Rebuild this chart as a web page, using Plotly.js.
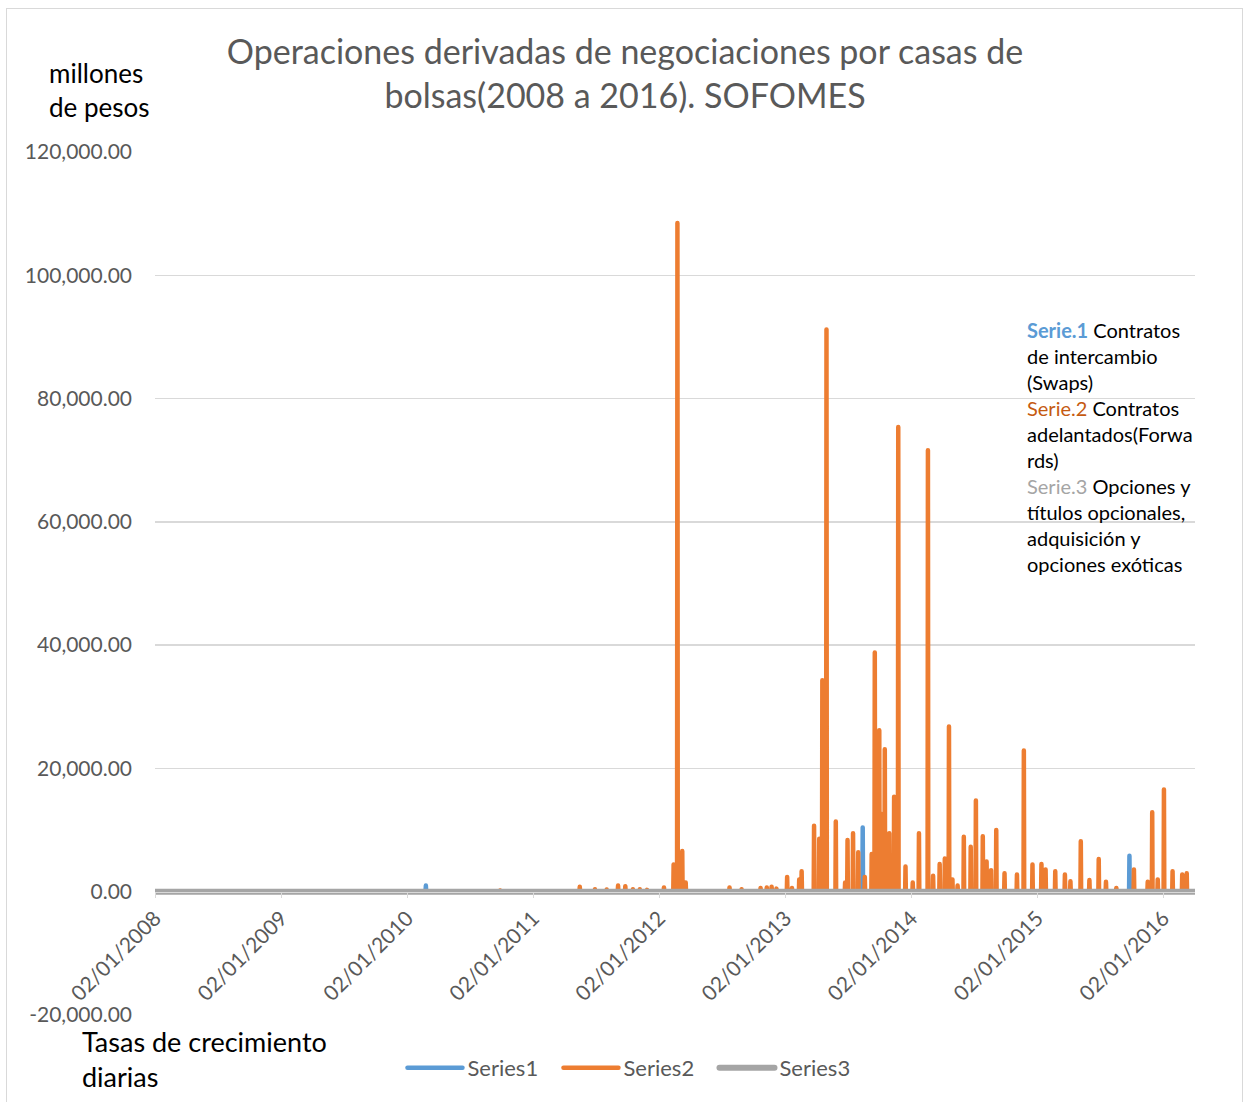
<!DOCTYPE html>
<html>
<head>
<meta charset="utf-8">
<script src="https://cdn.plot.ly/plotly-3.0.1.min.js"></script>
<style>
  html, body { margin: 0; padding: 0; background: #ffffff; }
  #wrap { position: relative; width: 1246px; height: 1102px; }
  #chart { position: absolute; left: 0; top: 0; width: 1246px; height: 1102px; }
  #frame { position: absolute; left: 6px; top: 8px; width: 1237px; height: 1100px;
           border: 1px solid #d9d9d9; pointer-events: none; box-sizing: border-box; }
  #chart .scatterlayer path.js-line { stroke-linejoin: round !important; stroke-linecap: round !important; }
  #chart .legend path.js-line { stroke-linecap: round !important; }
</style>
</head>
<body>
<div id="wrap">
  <div id="chart"></div>
  <div id="frame"></div>
</div>
<script>
// ---------------- DATA ----------------
const seriesNames = ['Series1', 'Series2', 'Series3'];

const xTickVals = ['2008-01-02','2009-01-02','2010-01-02','2011-01-02','2012-01-02',
                   '2013-01-02','2014-01-02','2015-01-02','2016-01-02'];
const xTickText = ['02/01/2008','02/01/2009','02/01/2010','02/01/2011','02/01/2012',
                   '02/01/2013','02/01/2014','02/01/2015','02/01/2016'];

const yTickVals = [-20000, 0, 20000, 40000, 60000, 80000, 100000, 120000];
const yTickText = ['-20,000.00','0.00','20,000.00','40,000.00','60,000.00',
                   '80,000.00','100,000.00','120,000.00'];

// Serie.1 Contratos de intercambio (Swaps)
const s1Dates = ['2008-01-02',
  '2010-02-24','2010-02-25','2010-02-26',
  '2013-08-13','2013-08-14','2013-08-15',
  '2015-09-25','2015-09-26','2015-09-27',
  '2016-03-31'];
const s1Values = [0,
  0, 1000, 0,
  0, 10400, 0,
  0, 5850, 0,
  0];

// Serie.2 Contratos adelantados (Forwards)
const s2Dates = ['2008-01-02',
  '2010-09-27','2010-09-28','2010-09-29',
  '2011-05-16','2011-05-17','2011-05-18',
  '2011-06-29','2011-06-30','2011-07-01',
  '2011-08-02','2011-08-03','2011-08-04',
  '2011-09-04','2011-09-05','2011-09-06',
  '2011-09-25','2011-09-26','2011-09-27',
  '2011-10-17','2011-10-18','2011-10-19',
  '2011-11-06','2011-11-07','2011-11-08',
  '2011-11-27','2011-11-28','2011-11-29',
  '2012-01-15','2012-01-16','2012-01-17',
  '2012-02-12','2012-02-13','2012-02-14',
  '2012-02-23','2012-02-24','2012-02-25',
  '2012-03-08','2012-03-09','2012-03-10',
  '2012-03-18','2012-03-19','2012-03-20',
  '2012-07-23','2012-07-24','2012-07-25',
  '2012-08-27','2012-08-28','2012-08-29',
  '2012-10-21','2012-10-22','2012-10-23',
  '2012-11-08','2012-11-09','2012-11-10',
  '2012-11-22','2012-11-23','2012-11-24',
  '2012-12-06','2012-12-07','2012-12-08',
  '2013-01-06','2013-01-07','2013-01-08',
  '2013-01-20','2013-01-21','2013-01-22',
  '2013-02-10','2013-02-11','2013-02-12',
  '2013-02-17','2013-02-18','2013-02-19',
  '2013-03-25','2013-03-26','2013-03-27',
  '2013-04-09','2013-04-10','2013-04-11',
  '2013-04-18','2013-04-19','2013-04-20',
  '2013-04-30','2013-05-01','2013-05-02',
  '2013-05-27','2013-05-28','2013-05-29',
  '2013-06-23','2013-06-24','2013-06-25',
  '2013-06-30','2013-07-01','2013-07-02',
  '2013-07-16','2013-07-17','2013-07-18',
  '2013-07-31','2013-08-01','2013-08-02',
  '2013-08-19','2013-08-20','2013-08-21',
  '2013-09-08','2013-09-09','2013-09-10',
  '2013-09-17','2013-09-18','2013-09-19',
  '2013-09-30','2013-10-01','2013-10-02',
  '2013-10-07','2013-10-08','2013-10-09',
  '2013-10-16','2013-10-17','2013-10-18',
  '2013-10-29','2013-10-30','2013-10-31',
  '2013-11-12','2013-11-13','2013-11-14',
  '2013-11-24','2013-11-25','2013-11-26',
  '2013-12-15','2013-12-16','2013-12-17',
  '2014-01-05','2014-01-06','2014-01-07',
  '2014-01-23','2014-01-24','2014-01-25',
  '2014-02-18','2014-02-19','2014-02-20',
  '2014-03-05','2014-03-06','2014-03-07',
  '2014-03-24','2014-03-25','2014-03-26',
  '2014-04-08','2014-04-09','2014-04-10',
  '2014-04-20','2014-04-21','2014-04-22',
  '2014-04-30','2014-05-01','2014-05-02',
  '2014-05-15','2014-05-16','2014-05-17',
  '2014-06-02','2014-06-03','2014-06-04',
  '2014-06-22','2014-06-23','2014-06-24',
  '2014-07-07','2014-07-08','2014-07-09',
  '2014-07-27','2014-07-28','2014-07-29',
  '2014-08-07','2014-08-08','2014-08-09',
  '2014-08-20','2014-08-21','2014-08-22',
  '2014-09-04','2014-09-05','2014-09-06',
  '2014-09-28','2014-09-29','2014-09-30',
  '2014-11-03','2014-11-04','2014-11-05',
  '2014-11-23','2014-11-24','2014-11-25',
  '2014-12-18','2014-12-19','2014-12-20',
  '2015-01-13','2015-01-14','2015-01-15',
  '2015-01-25','2015-01-26','2015-01-27',
  '2015-02-22','2015-02-23','2015-02-24',
  '2015-03-22','2015-03-23','2015-03-24',
  '2015-04-07','2015-04-08','2015-04-09',
  '2015-05-07','2015-05-08','2015-05-09',
  '2015-06-01','2015-06-02','2015-06-03',
  '2015-06-28','2015-06-29','2015-06-30',
  '2015-07-19','2015-07-20','2015-07-21',
  '2015-08-18','2015-08-19','2015-08-20',
  '2015-10-08','2015-10-09','2015-10-10',
  '2015-11-17','2015-11-18','2015-11-19',
  '2015-11-30','2015-12-01','2015-12-02',
  '2015-12-16','2015-12-17','2015-12-18',
  '2016-01-03','2016-01-04','2016-01-05',
  '2016-01-28','2016-01-29','2016-01-30',
  '2016-02-25','2016-02-26','2016-02-27',
  '2016-03-09','2016-03-10','2016-03-11',
  '2016-03-31'];
const s2Values = [0,
  0, 200, 0,
  0, 800, 0,
  0, 400, 0,
  0, 350, 0,
  0, 1000, 0,
  0, 900, 0,
  0, 400, 0,
  0, 400, 0,
  0, 300, 0,
  0, 700, 0,
  0, 4400, 0,
  0, 108500, 0,
  0, 6600, 0,
  0, 1500, 0,
  0, 700, 0,
  0, 400, 0,
  0, 600, 0,
  0, 700, 0,
  0, 800, 0,
  0, 500, 0,
  0, 2400, 0,
  0, 600, 0,
  0, 2000, 0,
  0, 3300, 0,
  0, 10700, 0,
  0, 8600, 0,
  0, 34300, 0,
  0, 91200, 0,
  0, 11400, 0,
  0, 1500, 0,
  0, 8400, 0,
  0, 9500, 0,
  0, 6400, 0,
  0, 2400, 0,
  0, 6100, 0,
  0, 38800, 0,
  0, 26200, 0,
  0, 12600, 0,
  0, 23100, 0,
  0, 9500, 0,
  0, 15400, 0,
  0, 75400, 0,
  0, 4100, 0,
  0, 1500, 0,
  0, 9500, 0,
  0, 71600, 0,
  0, 2600, 0,
  0, 4500, 0,
  0, 5400, 0,
  0, 26800, 0,
  0, 2000, 0,
  0, 1000, 0,
  0, 8900, 0,
  0, 7300, 0,
  0, 14800, 0,
  0, 9000, 0,
  0, 4900, 0,
  0, 3500, 0,
  0, 10000, 0,
  0, 3000, 0,
  0, 2800, 0,
  0, 22900, 0,
  0, 4400, 0,
  0, 4500, 0,
  0, 3600, 0,
  0, 3300, 0,
  0, 2800, 0,
  0, 1700, 0,
  0, 8200, 0,
  0, 1900, 0,
  0, 5300, 0,
  0, 1600, 0,
  0, 600, 0,
  0, 3600, 0,
  0, 1600, 0,
  0, 12900, 0,
  0, 2000, 0,
  0, 16600, 0,
  0, 3300, 0,
  0, 2800, 0,
  0, 3000, 0,
  0];

// Serie.3 Opciones y títulos opcionales, adquisición y opciones exóticas
const s3Dates = ['2008-01-02', '2016-04-03'];
const s3Values = [0, 0];

// ---------------- CHART ----------------
const FONT = 'Lato, Carlito, Calibri, "Open Sans", sans-serif';
const colors = ['#5b9bd5', '#ed7d31', '#a5a5a5'];

const traces = [
  { type: 'scatter', mode: 'lines', name: seriesNames[0], x: s1Dates, y: s1Values,
    line: { color: colors[0], width: 4.5 } },
  { type: 'scatter', mode: 'lines', name: seriesNames[1], x: s2Dates, y: s2Values,
    line: { color: colors[1], width: 4.5 } },
  { type: 'scatter', mode: 'lines', name: seriesNames[2], x: s3Dates, y: s3Values,
    line: { color: colors[2], width: 6 } }
];

const legendText =
  '<b><span style="color:#5b9bd5">Serie.1</span></b> Contratos<br>' +
  'de intercambio<br>(Swaps)<br>' +
  '<span style="color:#c55a11">Serie.2</span> Contratos<br>' +
  'adelantados(Forwa<br>rds)<br>' +
  '<span style="color:#a5a5a5">Serie.3</span> Opciones y<br>' +
  'títulos opcionales,<br>adquisición y<br>opciones exóticas';

const layout = {
  width: 1246, height: 1102,
  margin: { l: 155, r: 51, t: 152, b: 87 },
  paper_bgcolor: '#ffffff', plot_bgcolor: '#ffffff',
  font: { family: FONT, color: '#595959' },
  title: {
    text: 'Operaciones derivadas de negociaciones por casas de<br>bolsas(2008 a 2016). SOFOMES',
    font: { family: FONT, size: 34, color: '#595959' },
    x: 625 / 1246, xref: 'container', xanchor: 'center',
    y: 1 - 64 / 1102, yref: 'container', yanchor: 'middle',
    automargin: false
  },
  showlegend: true,
  legend: {
    orientation: 'h', x: 0.487, xanchor: 'center', y: -0.0614, yanchor: 'middle',
    font: { family: FONT, size: 22, color: '#595959' },
    bgcolor: 'rgba(0,0,0,0)', entrywidth: 111, entrywidthmode: 'pixels'
  },
  xaxis: {
    type: 'date',
    range: ['2008-01-02', '2016-04-03'],
    tickmode: 'array', tickvals: xTickVals, ticktext: xTickText,
    tickangle: -45,
    tickfont: { family: FONT, size: 21, color: '#595959' },
    ticks: 'outside', ticklen: 5, tickcolor: '#d9d9d9', tickwidth: 1,
    showgrid: false, zeroline: false,
    showline: true, linecolor: '#d9d9d9', linewidth: 1,
    anchor: 'free', position: 20000 / 140000,
    fixedrange: true
  },
  yaxis: {
    range: [-20000, 120000],
    tickmode: 'array', tickvals: yTickVals, ticktext: yTickText,
    tickfont: { family: FONT, size: 21, color: '#595959' },
    showgrid: true, gridcolor: '#d9d9d9', gridwidth: 1.5,
    zeroline: false, showline: false, ticks: '',
    ticklabelstandoff: 22,
    fixedrange: true
  },
  annotations: [
    { text: 'millones<br>de pesos', xref: 'paper', yref: 'paper',
      x: (47 - 155) / 1040, y: (1015 - 55) / 863, xanchor: 'left', yanchor: 'top',
      align: 'left', showarrow: false,
      font: { family: FONT, size: 26, color: '#000000' } },
    { text: 'Tasas de crecimiento<br>diarias', xref: 'paper', yref: 'paper',
      x: (80 - 155) / 1040, y: (1015 - 1023) / 863, xanchor: 'left', yanchor: 'top',
      align: 'left', showarrow: false,
      font: { family: FONT, size: 27, color: '#000000' } },
    { text: legendText, xref: 'paper', yref: 'paper',
      x: (1025 - 155) / 1040, y: (1015 - 316) / 863, xanchor: 'left', yanchor: 'top',
      align: 'left', showarrow: false,
      font: { family: FONT, size: 20, color: '#000000' } }
  ]
};

Plotly.newPlot('chart', traces, layout, { displayModeBar: false, staticPlot: true })
  .then(function (gd) {
    // Excel-style longer legend line samples (let them extend past the legend clip box)
    gd.querySelectorAll('.legend [clip-path]').forEach(function (el) {
      el.removeAttribute('clip-path');
    });
    gd.querySelectorAll('.legend .legendlines path').forEach(function (p) {
      p.setAttribute('d', 'M-20,0h55');
    });
  });
</script>
</body>
</html>
